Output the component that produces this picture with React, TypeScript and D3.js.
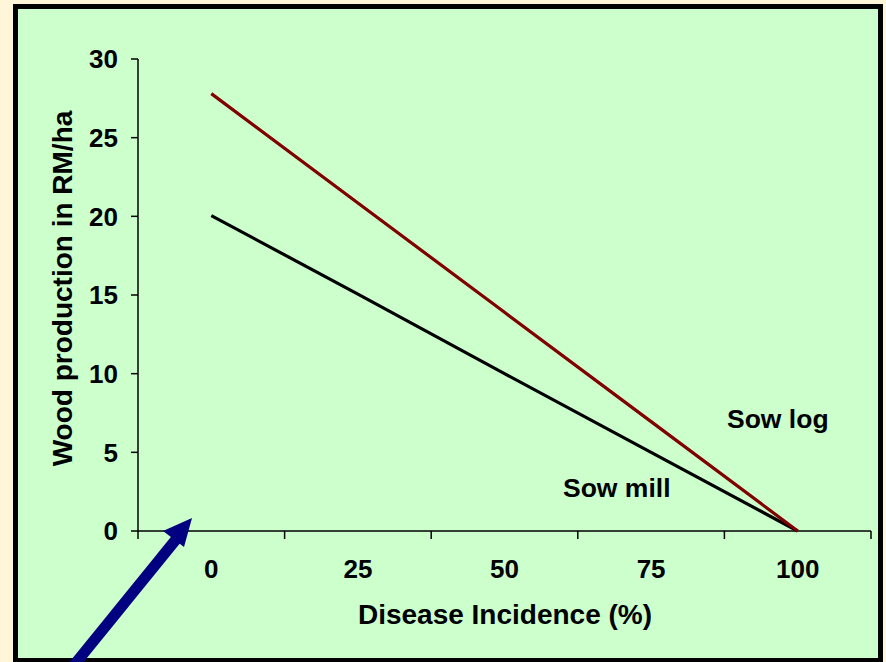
import React from "react";
import * as d3 from "d3";

const categories = ["0", "25", "50", "75", "100"];
const sowLog = [27.8, 20.85, 13.9, 6.95, 0];
const sowMill = [20.05, 15.05, 10.0, 5.0, 0];
const yTicks = [0, 5, 10, 15, 20, 25, 30];

const W = 886;
const H = 662;
const FONT = "'Liberation Sans', Arial, sans-serif";

export default function App() {
  const x = d3.scaleBand<string>().domain(categories).range([138, 871]).paddingInner(0).paddingOuter(0);
  const y = d3.scaleLinear().domain([0, 30]).range([531, 59]);
  const cx = (c: string) => (x(c) as number) + x.bandwidth() / 2;

  const line = d3
    .line<number>()
    .x((_, i) => cx(categories[i]))
    .y((d) => y(d));

  const boundaries = [...categories.map((c) => x(c) as number), x.range()[1]];

  return (
    <div style={{ position: "fixed", left: 0, top: 0 }}>
      <svg width={W} height={H} style={{ display: "block" }}>
        <rect x={0} y={0} width={W} height={H} fill="#FFF6DA" />
        <rect x={15.5} y={6.5} width={865} height={654} fill="#CCFFCC" stroke="#000" strokeWidth={5} />

        {/* Y axis */}
        <line x1={138} x2={138} y1={y(30)} y2={y(0)} stroke="#000" strokeWidth={1.5} />
        {yTicks.map((t) => (
          <g key={t}>
            <line x1={131} x2={138} y1={y(t)} y2={y(t)} stroke="#000" strokeWidth={1.5} />
            <text
              x={118}
              y={y(t) + 9.3}
              textAnchor="end"
              fontFamily={FONT}
              fontWeight="bold"
              fontSize={26}
              fill="#000"
            >
              {t}
            </text>
          </g>
        ))}

        {/* X axis */}
        <line x1={138} x2={871} y1={y(0)} y2={y(0)} stroke="#000" strokeWidth={1.5} />
        {boundaries.map((b, i) => (
          <line key={i} x1={b} x2={b} y1={y(0)} y2={y(0) + 8} stroke="#000" strokeWidth={1.5} />
        ))}
        {categories.map((c) => (
          <text
            key={c}
            x={cx(c)}
            y={578}
            textAnchor="middle"
            fontFamily={FONT}
            fontWeight="bold"
            fontSize={26}
            fill="#000"
          >
            {c}
          </text>
        ))}

        {/* Axis titles */}
        <text x={505} y={624} textAnchor="middle" fontFamily={FONT} fontWeight="bold" fontSize={28} fill="#000">
          Disease Incidence (%)
        </text>
        <text
          transform="translate(72,288.5) rotate(-90)"
          textAnchor="middle"
          fontFamily={FONT}
          fontWeight="bold"
          fontSize={28}
          fill="#000"
        >
          Wood production in RM/ha
        </text>

        {/* Series */}
        <path d={line(sowMill) as string} fill="none" stroke="#000" strokeWidth={3.2} />
        <path d={line(sowLog) as string} fill="none" stroke="#800000" strokeWidth={3.2} />

        <text x={727} y={428} fontFamily={FONT} fontWeight="bold" fontSize={26.5} fill="#000">
          Sow log
        </text>
        <text x={563} y={497} fontFamily={FONT} fontWeight="bold" fontSize={26.5} fill="#000">
          Sow mill
        </text>

        {/* Arrow */}
        <line x1={66} y1={675} x2={178} y2={537} stroke="#000080" strokeWidth={11} />
        <polygon points="192,518 163,531 184,547" fill="#000080" />
      </svg>
    </div>
  );
}
